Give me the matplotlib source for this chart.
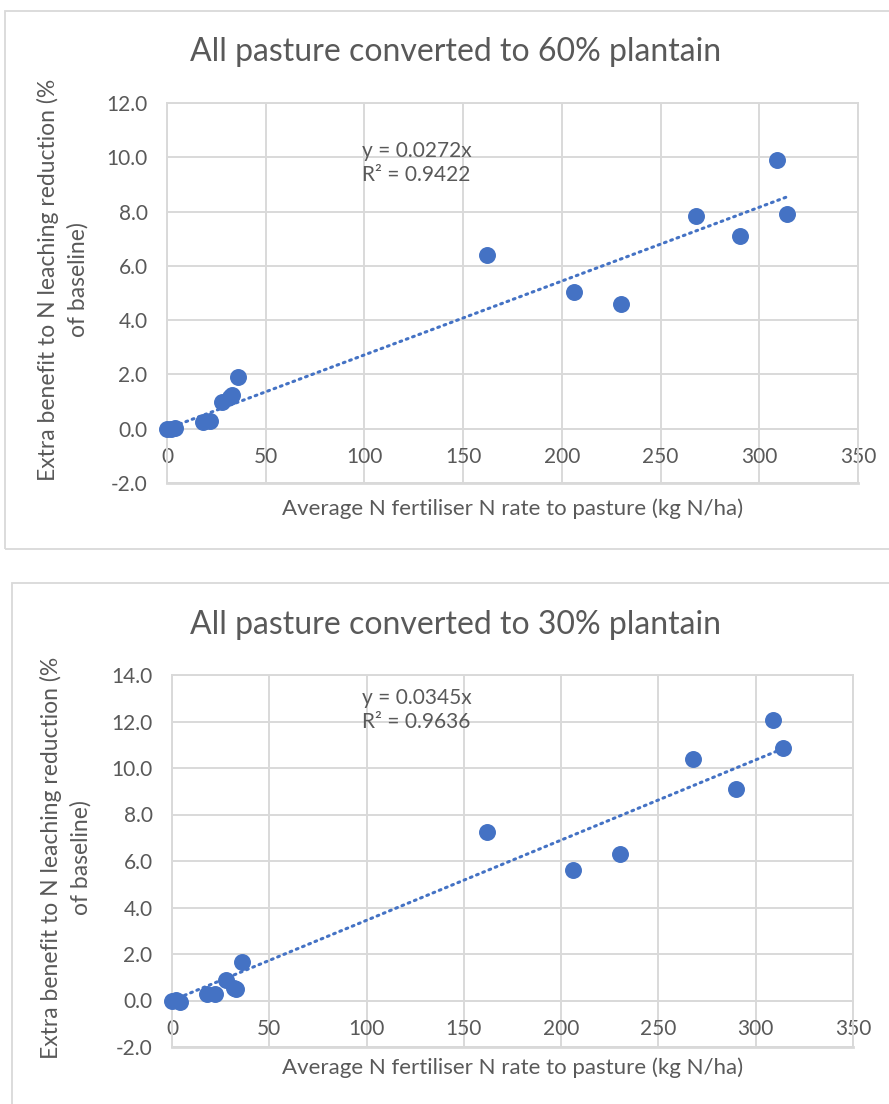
import numpy as np
import matplotlib.pyplot as plt
from matplotlib.patches import Rectangle

plt.rcParams['font.family'] = ['Lato', 'DejaVu Sans']

# data
n_rate = [0, 2, 4, 18, 22, 28, 32, 33, 36, 162, 206, 230, 268, 290, 309, 314]
benefit_60 = [0, 0, 0.02, 0.25, 0.3, 1.0, 1.15, 1.25, 1.9, 6.4, 5.05, 4.6, 7.85, 7.1, 9.9, 7.9]
benefit_30 = [0, 0.02, -0.05, 0.3, 0.27, 0.9, 0.55, 0.5, 1.65, 7.25, 5.6, 6.3, 10.4, 9.1, 12.05, 10.85]

slope_60, r2_60 = 0.0272, 0.9422
slope_30, r2_30 = 0.0345, 0.9636

x_ticks = [0, 50, 100, 150, 200, 250, 300, 350]
y_ticks_60 = [-2, 0, 2, 4, 6, 8, 10, 12]
y_ticks_30 = [-2, 0, 2, 4, 6, 8, 10, 12, 14]

title_60 = 'All pasture converted to 60% plantain'
title_30 = 'All pasture converted to 30% plantain'
xlabel = 'Average N fertiliser N rate to pasture (kg N/ha)'
ylabel = 'Extra benefit to N leaching reduction (%\nof baseline)'

BLUE = '#4472C4'
GRID = '#D9D9D9'
TXT = '#595959'

W, H = 889, 1104
fig = plt.figure(figsize=(W / 100, H / 100), dpi=100)


def px(x, y):
    # pixel position (from top-left) -> figure fraction
    return x / W, 1 - y / H


def panel(box, ax_box, y, yticks, slope, r2, title, title_y, eq_xy, ylab_xy, xlab_y):
    x0, y0, x1, y1 = box
    fig.patches.append(Rectangle(px(x0, y1), (x1 - x0) / W, (y1 - y0) / H,
                                 transform=fig.transFigure, fill=False,
                                 edgecolor=GRID, lw=1.3, zorder=0))
    l, t, r, b = ax_box
    ax = fig.add_axes([l / W, 1 - b / H, (r - l) / W, (b - t) / H])
    ax.set_xlim(x_ticks[0], x_ticks[-1])
    ax.set_ylim(yticks[0], yticks[-1])
    ax.set_xticks(x_ticks)
    ax.set_yticks(yticks)
    ax.set_yticklabels([f'{v:.1f}' for v in yticks])
    ax.grid(True, color=GRID, lw=1.4, zorder=0)
    ax.set_axisbelow(True)
    for s in ax.spines.values():
        s.set_color(GRID)
        s.set_linewidth(1.4)
    ax.spines['bottom'].set_position(('data', 0))
    ax.axhline(yticks[0], color=GRID, lw=2.0, clip_on=False, zorder=0)
    ax.tick_params(length=0, labelsize=15, labelcolor=TXT)
    ax.tick_params(axis='x', pad=13)
    ax.tick_params(axis='y', pad=14)

    xs = np.array([0, max(n_rate)])
    ax.plot(xs, slope * xs, ls=(0, (0.6, 1.6)), color=BLUE, lw=2.2,
            dash_capstyle='round', zorder=2)
    ax.scatter(n_rate, y, s=125, color=BLUE, edgecolor=BLUE, zorder=3,
               clip_on=False)

    ax.text(*eq_xy, f'y = {slope}x\nR² = {r2}', transform=fig.transFigure,
            fontsize=15, color=TXT, va='top', ha='left', linespacing=1.25)
    fig.text(*px(456, title_y), title, fontsize=23, color=TXT,
             ha='center', va='center')
    fig.text(*px((l + r) / 2, xlab_y), xlabel, fontsize=16, color=TXT,
             ha='center', va='center')
    fig.text(*ylab_xy, ylabel, fontsize=16.5, color=TXT, rotation=90,
             ha='center', va='center', multialignment='center',
             linespacing=1.45)
    return ax


panel((5, 11, 920, 549), (167, 103, 858, 483), benefit_60, y_ticks_60,
      slope_60, r2_60, title_60, 52, px(362, 141), px(63, 280), 509)
panel((12, 583, 920, 1130), (172, 675, 853, 1047), benefit_30, y_ticks_30,
      slope_30, r2_30, title_30, 625, px(362, 688), px(66, 858), 1068)

fig.savefig('out.png', dpi=100, facecolor='white')
